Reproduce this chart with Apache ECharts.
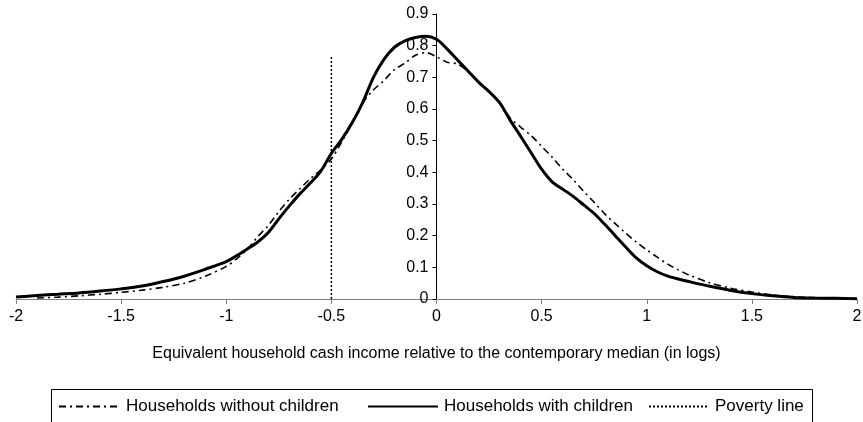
<!DOCTYPE html>
<html>
<head>
<meta charset="utf-8">
<script src="https://cdn.jsdelivr.net/npm/echarts@6/dist/echarts.min.js"></script>
<style>
  html, body { margin: 0; padding: 0; background: #fff; }
  #chart { width: 863px; height: 422px; }
</style>
</head>
<body>
<div id="chart"></div>
<script>
// Kernel density of log equivalent income (relative to median)
var withX = [-2, -1.9, -1.8, -1.7, -1.6, -1.5, -1.4, -1.3, -1.2, -1.1, -1,
  -0.95, -0.9, -0.85, -0.8, -0.75, -0.7, -0.65, -0.6, -0.55, -0.5,
  -0.45, -0.4, -0.35, -0.3, -0.25, -0.2, -0.15, -0.1, -0.05, 0,
  0.05, 0.1, 0.15, 0.2, 0.25, 0.3, 0.35, 0.4, 0.45, 0.5,
  0.55, 0.6, 0.65, 0.7, 0.75, 0.8, 0.85, 0.9, 0.95, 1,
  1.05, 1.1, 1.15, 1.2, 1.3, 1.4, 1.5, 1.6, 1.7, 1.8, 1.9, 2];
var withY = [0.006, 0.011, 0.015, 0.019, 0.025, 0.032, 0.041, 0.055, 0.072, 0.094, 0.118,
  0.137, 0.158, 0.18, 0.21, 0.253, 0.294, 0.332, 0.366, 0.404, 0.46,
  0.505, 0.558, 0.622, 0.7, 0.757, 0.795, 0.815, 0.826, 0.83, 0.82,
  0.79, 0.755, 0.72, 0.685, 0.655, 0.62, 0.565, 0.514, 0.462, 0.41,
  0.37, 0.347, 0.324, 0.297, 0.27, 0.236, 0.2, 0.164, 0.13, 0.105,
  0.086, 0.072, 0.063, 0.055, 0.04, 0.027, 0.017, 0.01, 0.005, 0.003, 0.002, 0.001];

var withoutX = [-1.9, -1.8, -1.7, -1.6, -1.5, -1.4, -1.3, -1.2, -1.1, -1,
  -0.95, -0.9, -0.85, -0.8, -0.75, -0.7, -0.65, -0.6, -0.55, -0.5,
  -0.45, -0.4, -0.35, -0.3, -0.25, -0.2, -0.15, -0.1, -0.05, 0,
  0.05, 0.1, 0.15, 0.2, 0.25, 0.3, 0.35, 0.4, 0.45, 0.5,
  0.55, 0.6, 0.65, 0.7, 0.75, 0.8, 0.85, 0.9, 0.95, 1,
  1.05, 1.1, 1.15, 1.2, 1.3, 1.4, 1.5, 1.6, 1.7, 1.8];
var withoutY = [0.003, 0.006, 0.01, 0.015, 0.021, 0.028, 0.037, 0.05, 0.072, 0.103,
  0.127, 0.157, 0.197, 0.232, 0.276, 0.315, 0.348, 0.38, 0.408, 0.442,
  0.497, 0.556, 0.62, 0.66, 0.69, 0.724, 0.745, 0.77, 0.778, 0.765,
  0.748, 0.742, 0.718, 0.685, 0.655, 0.62, 0.572, 0.543, 0.516, 0.482,
  0.448, 0.41, 0.377, 0.34, 0.305, 0.269, 0.238, 0.208, 0.18, 0.155,
  0.132, 0.11, 0.092, 0.076, 0.051, 0.034, 0.022, 0.013, 0.007, 0.004];

var povertyX = [-0.5, -0.5];
var povertyY = [0, 0.77];

var seriesNames = ['Households without children', 'Households with children', 'Poverty line'];

function pairs(xs, ys) {
  return xs.map(function (x, i) { return [x, ys[i]]; });
}

var FONT = 'Arial, "Liberation Sans", sans-serif';
var GRID_LEFT = 16, GRID_RIGHT = 6, WIDTH = 863;
var chart = echarts.init(document.getElementById('chart'), null, { renderer: 'canvas' });

// The vertical axis sits at x = 0, halfway across the horizontal range.
var plotWidth = WIDTH - GRID_LEFT - GRID_RIGHT;
var yAxisShift = -plotWidth / 2;

function legendBlock(name, left, iconWidth) {
  return {
    data: [name],
    left: left,
    top: 398,
    padding: 0,
    itemWidth: iconWidth,
    itemHeight: 12,
    selectedMode: false,
    itemStyle: { opacity: 0 },
    textStyle: { fontFamily: FONT, fontSize: 17, color: '#000', padding: [0, 0, 0, 1] }
  };
}

chart.setOption({
  animation: false,
  backgroundColor: '#fff',
  grid: { left: GRID_LEFT, right: GRID_RIGHT, top: 14, bottom: 123, containLabel: false, outerBoundsMode: 'none' },
  xAxis: {
    type: 'value',
    min: -2, max: 2, interval: 0.5,
    name: 'Equivalent household cash income relative to the contemporary median (in logs)',
    nameLocation: 'middle',
    nameGap: 47,
    nameTextStyle: { fontFamily: FONT, fontSize: 16, color: '#000' },
    axisLine: { onZero: false, lineStyle: { color: '#808080', width: 1 } },
    axisTick: { show: true, length: 5, lineStyle: { color: '#808080' } },
    axisLabel: { fontFamily: FONT, fontSize: 16, color: '#000', margin: 10 },
    splitLine: { show: false }
  },
  yAxis: {
    type: 'value',
    position: 'left',
    offset: yAxisShift,
    min: 0, max: 0.9, interval: 0.1,
    axisLine: { show: true, onZero: false, lineStyle: { color: '#000', width: 1 } },
    axisTick: { show: true, length: 4, lineStyle: { color: '#000' } },
    axisLabel: {
      fontFamily: FONT, fontSize: 16, color: '#000', margin: 8,
      formatter: function (v) { return v === 0 ? '0' : v.toFixed(1); }
    },
    splitLine: { show: false }
  },
  legend: [
    legendBlock(seriesNames[0], 58, 61),
    legendBlock(seriesNames[1], 367, 70),
    legendBlock(seriesNames[2], 648, 60)
  ],
  graphic: [{
    type: 'rect',
    shape: { x: 51.5, y: 389.5, width: 761, height: 50 },
    style: { fill: 'none', stroke: '#000', lineWidth: 1 },
    silent: true
  }],
  series: [
    {
      name: seriesNames[0],
      type: 'line',
      data: pairs(withoutX, withoutY),
      symbol: 'none',
      smooth: 0.3,
      color: '#000',
      lineStyle: { color: '#000', width: 1.6, type: [7, 4, 2, 4] },
      z: 3
    },
    {
      name: seriesNames[1],
      type: 'line',
      data: pairs(withX, withY),
      symbol: 'none',
      smooth: 0.3,
      color: '#000',
      lineStyle: { color: '#000', width: 3 },
      z: 4
    },
    {
      name: seriesNames[2],
      type: 'line',
      data: pairs(povertyX, povertyY),
      symbol: 'none',
      color: '#000',
      lineStyle: { color: '#000', width: 1.5, type: [2, 2] },
      z: 2
    }
  ]
});
</script>
</body>
</html>
